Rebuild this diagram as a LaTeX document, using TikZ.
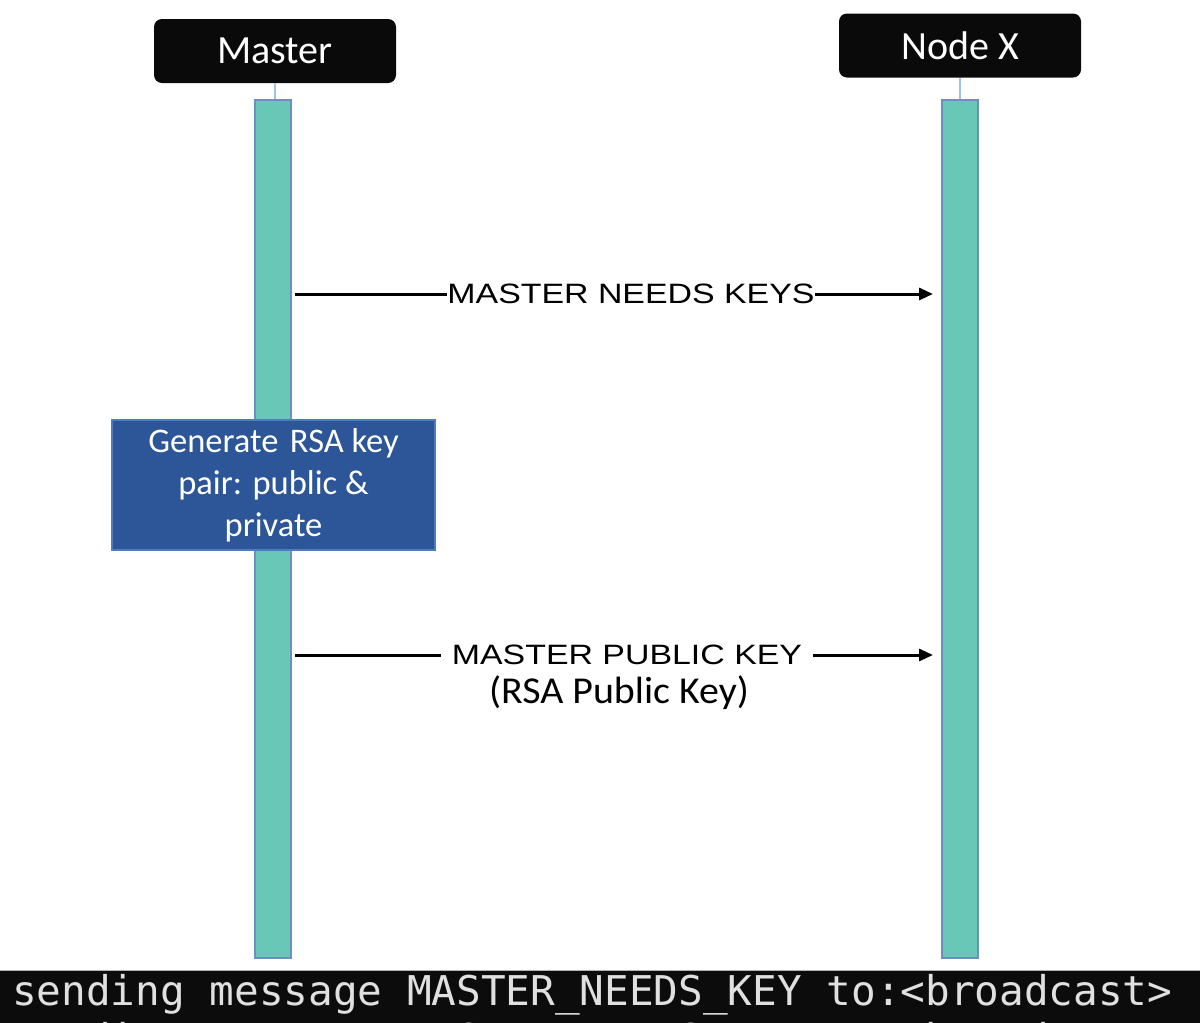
\documentclass[tikz,border=0pt]{standalone}
\usepackage{fontspec}
\usetikzlibrary{arrows.meta}
\newfontfamily\calfont{Carlito}
\newfontfamily\arifont{Liberation Sans}
\newfontfamily\confont{DejaVu Sans Mono}
\definecolor{lifefill}{HTML}{68C7B7}
\definecolor{lifeedge}{HTML}{6A8FC0}
\definecolor{boxfill}{HTML}{2C5698}
\definecolor{boxedge}{HTML}{4F7BC0}
\definecolor{thinblue}{HTML}{9DC3E6}
\definecolor{consbg}{HTML}{0C0C0C}
\tikzset{
  header/.style={fill=black!96, rounded corners=8pt, text=white, inner sep=0pt,
    minimum width=242pt, minimum height=64pt, font=\calfont\fontsize{40}{47}\selectfont},
  lifeline/.style={fill=lifefill, draw=lifeedge, line width=2pt, minimum width=36pt,
    minimum height=858pt, inner sep=0pt},
  actbox/.style={fill=boxfill, draw=boxedge, line width=1.5pt, minimum width=323pt,
    minimum height=130pt, text=white, align=center, inner sep=0pt,
    font=\calfont\fontsize{34.5}{42}\selectfont},
  tether/.style={draw=thinblue, line width=1.2pt},
  msg/.style={draw=black, line width=3pt, -{Triangle[length=14pt,width=12pt]}},
  msglabel/.style={fill=white, inner ysep=2pt, xscale=1.21,
    font=\arifont\fontsize{28}{32}\selectfont},
  sublabel/.style={inner sep=0pt, xscale=1.05, font=\calfont\fontsize{38}{42}\selectfont},
  constext/.style={text=white!88!black, inner sep=0pt, anchor=base west,
    font=\confont\fontsize{41}{45}\selectfont}
}
\begin{document}
\begin{tikzpicture}[x=1pt,y=-1pt]
\useasboundingbox (0,0) rectangle (1200,1023);
\clip (0,0) rectangle (1200,1023);
\fill[white] (0,0) rectangle (1200,1023);
% headers
\node[header] (master) at (275,51) {Master};
\node[header] (nodex) at (960,45.5) {Node X};
% lifelines
\node[lifeline] (ml) at (273,529) {};
\node[lifeline] (xl) at (960,529) {};
\draw[tether] (master.south) -- (master.south |- ml.north);
\draw[tether] (nodex.south) -- (nodex.south |- xl.north);
% activity box
\node[actbox] (gen) at (273.5,485) {Generate\,\,RSA key\\pair: public \&\\private};
% messages
\coordinate (m1s) at ([xshift=3pt]ml.east |- 0,294);
\coordinate (m1e) at ([xshift=-8pt]xl.west |- 0,294);
\draw[msg] (m1s) -- (m1e);
\node[msglabel, inner xsep=0pt] (l1) at (631,294) {MASTER NEEDS KEYS};
\coordinate (m2s) at ([xshift=3pt]ml.east |- 0,655);
\coordinate (m2e) at ([xshift=-8pt]xl.west |- 0,655);
\draw[msg] (m2s) -- (m2e);
\node[msglabel, inner xsep=9pt] (l2) at (627,655) {MASTER PUBLIC KEY};
\node[sublabel, anchor=base] (l2b) at (619,703) {(RSA Public Key)};
% console strip
\fill[consbg] (0,970) rectangle (1200,1030);
\draw[gray!60, line width=1pt] (0,970.5) -- (1200,970.5);
\node[constext] (c1) at (12,1005) {sending message MASTER\_NEEDS\_KEY to:<broadcast>};
\node[constext] (c2) at (12,1053) {sending message MASTER\_NEEDS\_KEY to:<broadcast>};
\end{tikzpicture}
\end{document}
